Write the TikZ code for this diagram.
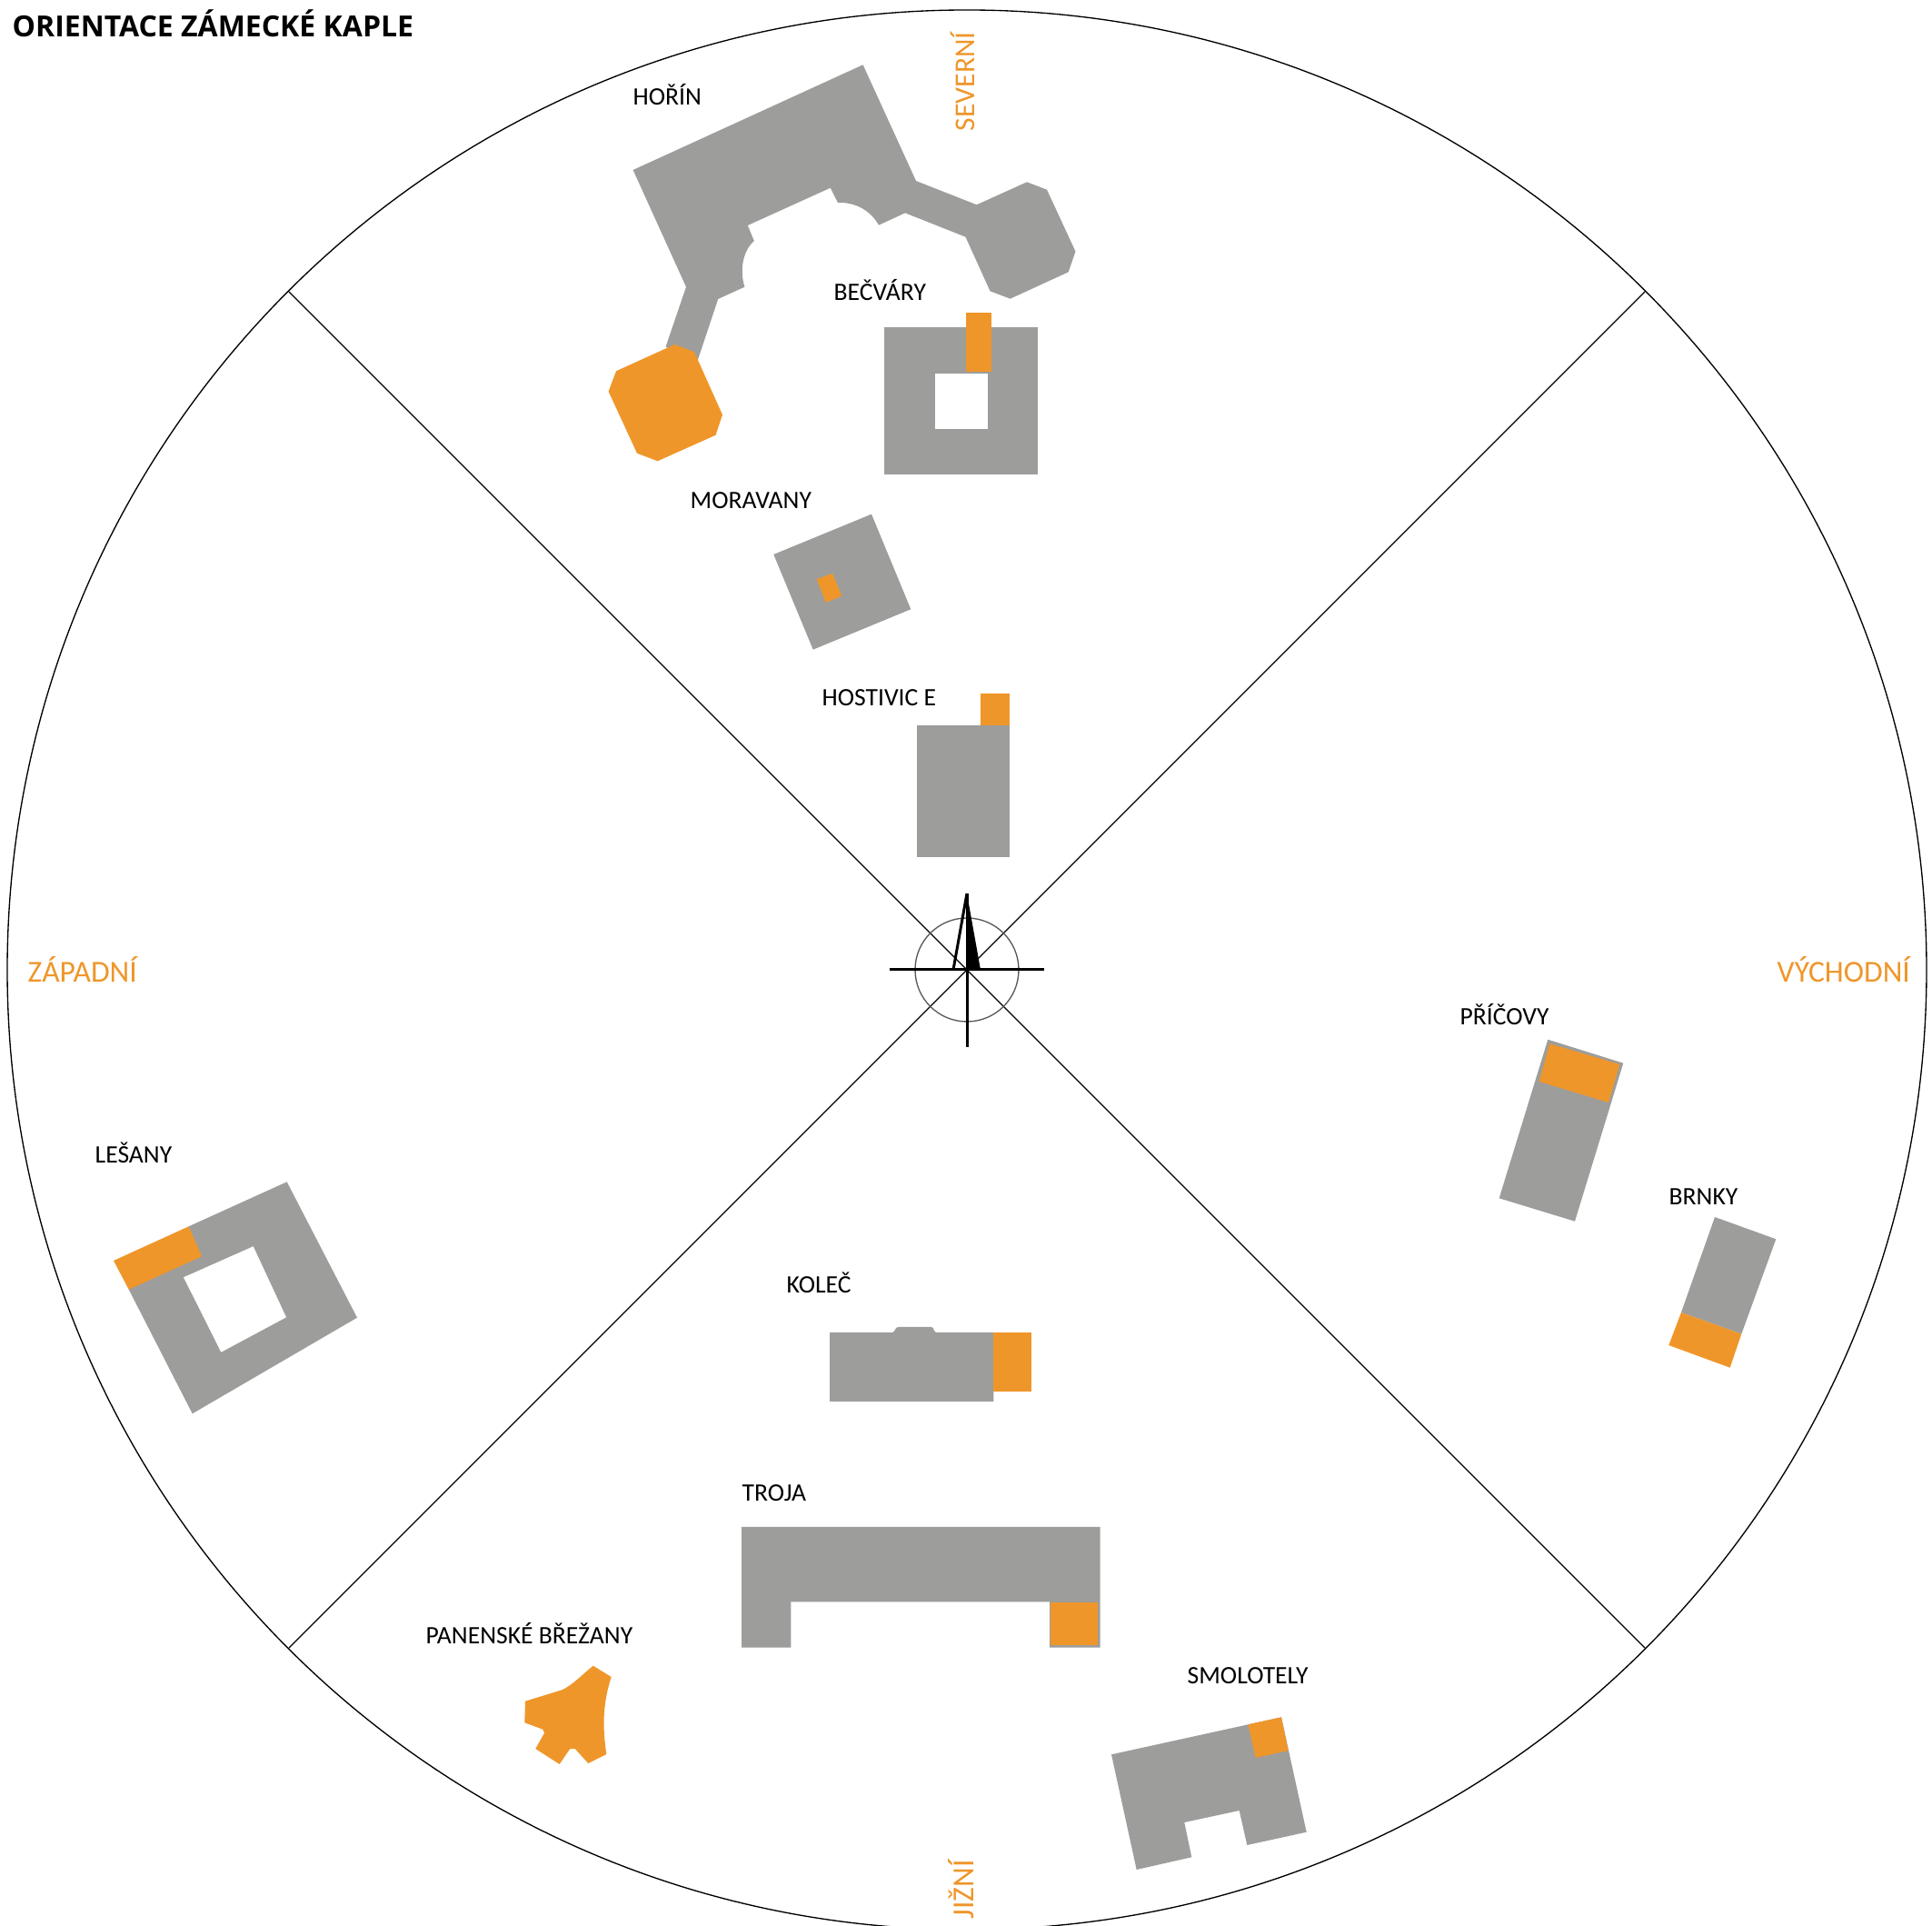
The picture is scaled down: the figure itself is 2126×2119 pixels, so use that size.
\documentclass[tikz,border=0pt]{standalone}
\usepackage{fontspec}
\setmainfont{Carlito}
\newfontfamily\titulfont{Open Sans}
\usepackage{xcolor}
\usetikzlibrary{positioning}
\definecolor{budova}{RGB}{157,157,156}
\definecolor{kaple}{RGB}{239,150,42}

\begin{document}
\begin{tikzpicture}[x=0.01cm, y=-0.01cm,
  budova/.style={fill=budova, draw=none},
  kaple/.style={fill=kaple, draw=none},
  dvur/.style={fill=white, draw=none},
  osa/.style={line width=0.38pt, black},
  kriz/.style={line width=0.85pt, black},
  nazev/.style={anchor=base west, inner sep=0pt, font=\fontsize{7.85}{9}\selectfont, black},
  strana/.style={anchor=base west, inner sep=0pt, font=\fontsize{9.55}{11}\selectfont, text=kaple}
]
  \useasboundingbox (0,0) rectangle (2126,2119);
  \clip (0,0) rectangle (2126,2119);

  % kruh a osy
  \coordinate (stred) at (1064,1067);
  \coordinate (sz) at (318,321);
  \coordinate (sv) at (1810,321);
  \coordinate (jz) at (318,1813);
  \coordinate (jv) at (1810,1813);
  \draw[osa] (stred) circle [radius=1056];
  \draw[osa] (sz) -- (jv);
  \draw[osa] (sv) -- (jz);

  % kompas
  \coordinate (kzap) at (979,1067);
  \coordinate (kvych) at (1149,1067);
  \coordinate (ksev) at (1064,983);
  \coordinate (kjih) at (1064,1152);
  \coordinate (kleva) at (1049,1067);
  \coordinate (kprava) at (1079,1067);
  \draw[osa, gray!70!black] (stred) circle [radius=57];
  \draw[kriz] (kzap) -- (kvych);
  \draw[kriz] (ksev) -- (kjih);
  \draw[kriz] (kleva) -- (ksev);
  \fill[black] (ksev) -- (kprava) -- (stred) -- cycle;

  % HORIN
  \fill[budova] (949.6,71.3) -- (1008,199) -- (1074.7,225.3) -- (1130,200.3) -- (1152,208.7) -- (1183.5,276.7)
    -- (1175.7,299.3) -- (1111.7,328.7) -- (1089.5,320.3) -- (1062.5,260.7) -- (996,234.3) -- (967,247.7)
    .. controls (958,231.7) and (941.5,222.3) .. (922,223) -- (913.8,206.7) -- (822.8,248) -- (829.8,265)
    .. controls (816.8,276.7) and (813.9,298.3) .. (819.4,315.7) -- (790.2,329) -- (767.6,396.7)
    -- (732.5,381.7) -- (755,315.7) -- (696.6,187) -- cycle;
  \fill[kaple] (742.5,379) -- (764,387.3) -- (795,456.3) -- (787.6,478.7) -- (723.6,507.3)
    -- (701,498.7) -- (669.6,430.7) -- (678,408.3) -- cycle;

  % BECVARY
  \fill[budova] (972.6,359.7) rectangle (1141.7,521.7);
  \fill[dvur] (1029.2,410.7) rectangle (1087.3,471.7);
  \fill[kaple] (1062.5,344) rectangle (1091.3,409.3);

  % MORAVANY
  \fill[budova] (959,565.7) -- (1002.3,670.3) -- (894.7,714.7) -- (851.3,610) -- cycle;
  \fill[kaple] (916,630.7) -- (926.3,655.7) -- (908.7,663) -- (898.7,637.3) -- cycle;

  % HOSTIVICE
  \fill[budova] (1009.3,798) rectangle (1111.3,942.7);
  \fill[kaple] (1079.3,763) rectangle (1111.3,798);

  % PRICOVY
  \fill[budova] (1703.3,1143.7) -- (1786.3,1169.7) -- (1733,1343.7) -- (1649.7,1318.3) -- cycle;
  \fill[kaple] (1705.3,1148.3) -- (1782.3,1171) -- (1770,1213) -- (1693.7,1190) -- cycle;

  % BRNKY
  \fill[budova] (1887,1339) -- (1954.3,1363.3) -- (1916.3,1467.7) -- (1850,1444) -- cycle;
  \fill[kaple] (1850,1444) -- (1916.3,1467.7) -- (1903.7,1504.7) -- (1836.3,1480) -- cycle;

  % LESANY
  \fill[budova] (315.7,1300.3) -- (393,1449.7) -- (211.7,1555.3) -- (141.7,1418.7) -- (207.7,1349.3) -- cycle;
  \fill[dvur] (278.7,1371.3) -- (315,1449.3) -- (243.3,1487.7) -- (202,1405.3) -- cycle;
  \fill[kaple] (125,1387) -- (207.7,1349.3) -- (222,1382.3) -- (141.7,1418.7) -- cycle;

  % KOLEC
  \fill[budova] (913,1466) -- (981.7,1466) .. controls (985,1466) and (985,1460) .. (988.3,1460) -- (1025,1460)
    .. controls (1028,1460) and (1027,1466) .. (1030.7,1466) -- (1093.3,1466) -- (1093.3,1542) -- (913,1542) -- cycle;
  \fill[kaple] (1093.3,1466) rectangle (1135.3,1531);

  % TROJA
  \fill[budova] (816,1680) -- (1210.7,1680) -- (1210.7,1812.7) -- (1155,1812.7) -- (1155,1762.3)
    -- (870.3,1762.3) -- (870.3,1812.7) -- (816,1812.7) -- cycle;
  \fill[kaple] (1156,1763.3) rectangle (1207.7,1810);

  % PANENSKE BREZANY
  \fill[kaple] (652.7,1832.7) -- (672.7,1845) .. controls (663,1875) and (663,1900) .. (667.3,1930)
    -- (647.3,1940) -- (632.7,1924) -- (627.3,1924) -- (615.7,1941) -- (589.3,1924) -- (599,1906.7)
    -- (597.3,1902.7) -- (577.3,1895.3) -- (578,1871.7) -- (618.3,1859.3)
    .. controls (630,1854) and (640,1843) .. (652.7,1832.7) -- cycle;

  % SMOLOTELY
  \fill[budova] (1223,1930.3) -- (1410,1889.3) -- (1437.7,2015.7) -- (1372.3,2030) -- (1363.7,1992)
    -- (1303.3,2005) -- (1311.3,2043.3) -- (1250.7,2057) -- cycle;
  \fill[kaple] (1373.3,1897.3) -- (1410,1889.3) -- (1417.7,1926) -- (1381.7,1934) -- cycle;

  % popisky
  \node[nazev, font=\fontsize{9.1}{10}\selectfont\titulfont\bfseries] (titul) at (13,40.5) {ORIENTACE ZÁMECKÉ KAPLE};
  \node[nazev] (horin) at (696,116) {HOŘÍN};
  \node[nazev] (becvary) at (917,331) {BEČVÁRY};
  \node[nazev] (moravany) at (759,560) {MORAVANY};
  \node[nazev] (hostivice) at (904,777) {HOSTIVIC E};
  \node[nazev] (pricovy) at (1606,1128) {PŘÍČOVY};
  \node[nazev] (brnky) at (1836,1326) {BRNKY};
  \node[nazev] (lesany) at (104,1280) {LEŠANY};
  \node[nazev] (kolec) at (865,1423) {KOLEČ};
  \node[nazev] (troja) at (816,1652) {TROJA};
  \node[nazev] (brezany) at (468,1809) {PANENSKÉ BŘEŽANY};
  \node[nazev] (smolotely) at (1306,1853) {SMOLOTELY};

  \node[strana] (zapadni) at (30,1081) {ZÁPADNÍ};
  \node[strana] (vychodni) at (1955,1081) {VÝCHODNÍ};
  \node[strana, rotate=90, font=\fontsize{9}{11}\selectfont] (severni) at (1072,145) {SEVERNÍ};
  \node[strana, rotate=90] (jizni) at (1071,2112) {JIŽNÍ};
\end{tikzpicture}
\end{document}
